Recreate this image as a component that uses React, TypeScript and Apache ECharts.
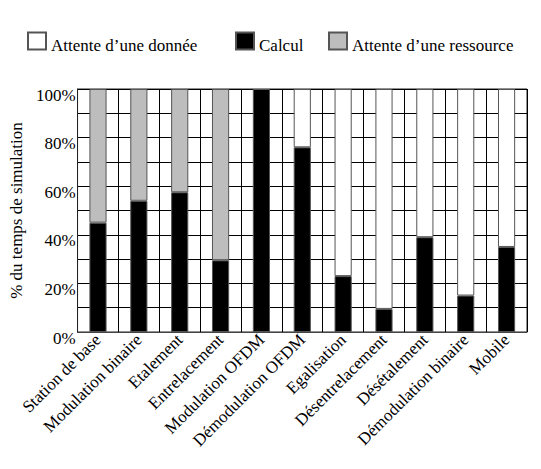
import React, { useEffect, useRef } from "react";
import * as echarts from "echarts";

const categories = [
  "Station de base",
  "Modulation binaire",
  "Etalement",
  "Entrelacement",
  "Modulation OFDM",
  "Démodulation OFDM",
  "Egalisation",
  "Désentrelacement",
  "Désétalement",
  "Démodulation binaire",
  "Mobile",
];
const calcul = [45, 54, 57.5, 29.5, 100, 76, 23, 9.5, 39, 15, 35];
const attenteRessource = [55, 46, 42.5, 70.5, null, null, null, null, null, null, null];
const attenteDonnee = [null, null, null, null, null, 24, 77, 90.5, 61, 85, 65];
const yTicks = [0, 20, 40, 60, 80, 100];

const FONT = "'Liberation Serif', 'Times New Roman', serif";

export default function App() {
  const ref = useRef<HTMLDivElement>(null);
  useEffect(() => {
    document.body.style.margin = "0";
    const chart = echarts.init(ref.current!, null, { renderer: "svg" });
    const legendText = {
      color: "#000",
      fontSize: 17,
      fontFamily: FONT,
      rich: {
        t: {
          color: "#000",
          fontSize: 17,
          fontFamily: FONT,
          lineHeight: 17,
          padding: [9, 0, 0, 0],
        },
      },
    };
    const mkLegend = (name: string, left: number) => ({
      data: [name],
      left,
      top: 28,
      padding: 0,
      itemWidth: 18,
      itemHeight: 17,
      icon: "rect",
      itemGap: 0,
      textStyle: legendText,
      formatter: (n: string) => "{t|" + n + "}",
      selectedMode: false,
    });
    chart.setOption({
      animation: false,
      backgroundColor: "#fff",
      textStyle: { fontFamily: FONT, color: "#000" },
      legend: [
        mkLegend("Attente d’une donnée", 27),
        mkLegend("Calcul", 235),
        mkLegend("Attente d’une ressource", 328),
      ],
      grid: {
        left: 67,
        right: 14,
        top: 89,
        bottom: 137,
        show: true,
        borderColor: "#222",
        borderWidth: 1,
      },
      xAxis: {
        type: "category",
        data: categories,
        axisTick: { show: false },
        axisLine: { lineStyle: { color: "#444", width: 1 } },
        splitLine: { show: true, lineStyle: { color: "#000", width: 1, type: "solid" } },
        axisLabel: {
          rotate: 45,
          interval: 0,
          margin: 5,
          color: "#000",
          fontSize: 17,
          fontFamily: FONT,
        },
      },
      yAxis: {
        type: "value",
        min: 0,
        max: 100,
        interval: 10,
        name: "% du temps de simulation",
        nameLocation: "middle",
        nameGap: 40,
        nameTextStyle: { color: "#000", fontSize: 17, fontFamily: FONT },
        axisTick: { show: false },
        axisLine: { show: true, lineStyle: { color: "#222", width: 1 } },
        splitLine: { show: true, lineStyle: { color: "#000", width: 1, type: "solid" } },
        axisLabel: {
          margin: 2,
          color: "#000",
          fontSize: 17,
          fontFamily: FONT,
          lineHeight: 12,
          verticalAlign: "top",
          formatter: (v: number) => (yTicks.includes(v) ? v + "%" : ""),
        },
      },
      series: [
        {
          name: "Calcul",
          type: "bar",
          stack: "t",
          barWidth: "42%",
          data: calcul,
          itemStyle: { color: "#000", borderColor: "#555", borderWidth: 1 },
        },
        {
          name: "Attente d’une ressource",
          type: "bar",
          stack: "t",
          barWidth: "42%",
          data: attenteRessource,
          itemStyle: { color: "#bdbdbd", borderColor: "#555", borderWidth: 1 },
        },
        {
          name: "Attente d’une donnée",
          type: "bar",
          stack: "t",
          barWidth: "42%",
          data: attenteDonnee,
          itemStyle: { color: "#fff", borderColor: "#555", borderWidth: 1 },
        },
      ],
    });
    return () => chart.dispose();
  }, []);
  return <div ref={ref} style={{ width: 541, height: 469 }} />;
}
